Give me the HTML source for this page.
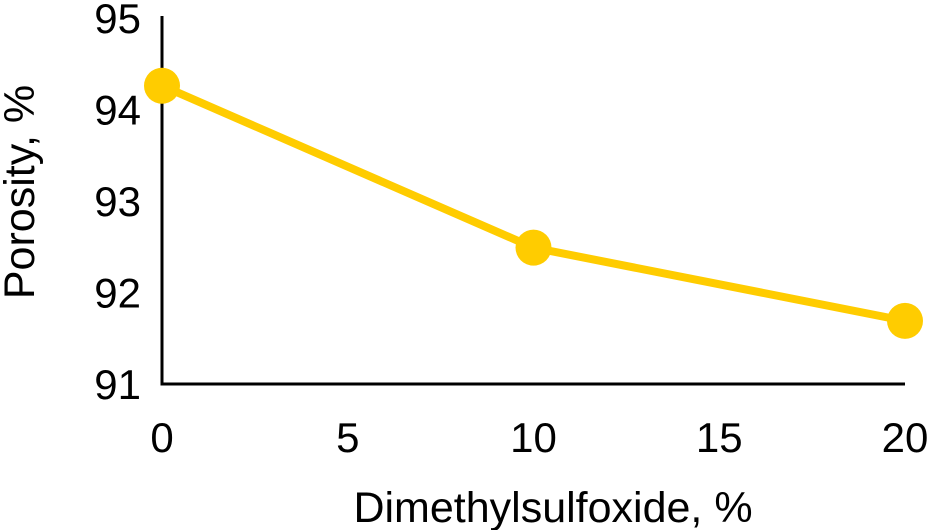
<!DOCTYPE html>
<html><head><meta charset="utf-8"><style>
html,body{margin:0;padding:0;background:#fff;}
svg{display:block;font-family:"Liberation Sans",Arial,sans-serif;}
</style></head><body>
<svg id="chart" width="927" height="530" viewBox="0 0 927 530"></svg>
<script>
const xValues=[0,10,20];
const yValues=[94.26,92.49,91.69];
const xTicks=[0,5,10,15,20];
const yTicks=[91,92,93,94,95];
const NS="http://www.w3.org/2000/svg";
const svg=document.getElementById('chart');
const x0=162,x1=905,y0=384,y1=18;
const xs=v=>x0+(v-0)/(20-0)*(x1-x0);
const ys=v=>y0-(v-91)/(95-91)*(y0-y1);
function mk(t,a,p){const e=document.createElementNS(NS,t);for(const k in a)e.setAttribute(k,a[k]);(p||svg).appendChild(e);return e;}
const ax=mk('g',{});


const ya=mk('line',{x1:x0,y1:y1-2,x2:x0,y2:y0,stroke:'#000','stroke-width':3},ax);


const xa=mk('line',{x1:x0-1.5,y1:y0,x2:x1,y2:y0,stroke:'#000','stroke-width':3},ax);


yTicks.forEach(v=>{const t=mk('text',{x:141,y:ys(v)+15,'text-anchor':'end','font-size':42},ax);t.textContent=v;

});
xTicks.forEach(v=>{const t=mk('text',{x:xs(v),y:452,'text-anchor':'middle','font-size':42},ax);t.textContent=v;

});
const xt=mk('text',{x:553,y:522,'text-anchor':'middle','font-size':43});xt.textContent='Dimethylsulfoxide, %';


const yt=mk('text',{x:0,y:0,'text-anchor':'middle','font-size':43,transform:'translate(34,192) rotate(-90)'});yt.textContent='Porosity, %';


const pts=xValues.map((v,i)=>xs(v)+','+ys(yValues[i])).join(' ');
const pl=mk('polyline',{points:pts,fill:'none',stroke:'#FFCC00','stroke-width':8,'stroke-linejoin':'round'});


xValues.forEach((v,i)=>{const c=mk('circle',{cx:xs(v),cy:ys(yValues[i]),r:18,fill:'#FFCC00'});

});
</script>
</body></html>
